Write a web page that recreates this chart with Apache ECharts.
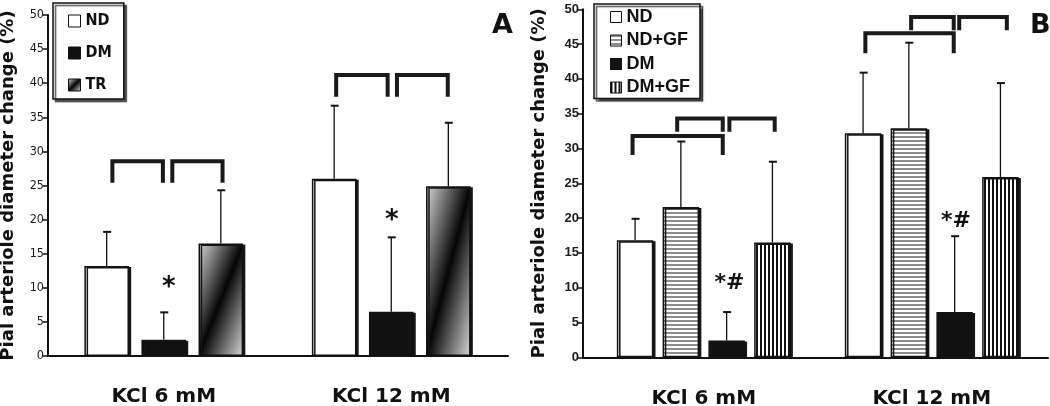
<!DOCTYPE html>
<html><head><meta charset="utf-8">
<script src="https://cdn.jsdelivr.net/npm/echarts@6/dist/echarts.min.js"></script>
<style>html,body{margin:0;padding:0;background:#fff}#c{width:1050px;height:406px}</style>
</head><body><div id="c"></div>
<script>
// ---------- data ----------
const categories = ['KCl 6 mM', 'KCl 12 mM'];
const yMin = 0, yMax = 50, yStep = 5;
const axisTitle = 'Pial arteriole diameter change (%)';

// Panel A
const groupsA = ['ND', 'DM', 'TR'];
const meanA_ND = [13.2, 26.0];
const sdA_ND   = [5.0, 10.7];
const meanA_DM = [2.4, 6.5];
const sdA_DM   = [4.0, 10.9];
const meanA_TR = [16.5, 24.9];
const sdA_TR   = [7.8, 9.3];
// brackets: [category, from bar, to bar, top value, leg end value]
const bracketsA = [[0, 0.10, 0.985, 28.55, 25.4], [0, 1.15, 2.03, 28.55, 25.4],
                   [1, 0.035, 0.937, 41.2, 38.0], [1, 1.10, 1.99, 41.2, 38.0]];
// significance marks: [category, bar position, value]
const marksA = [[0, 1.09, 9.9], [1, 1.01, 19.8]];
const markTextA = ['*', '*'];

// Panel B
const groupsB = ['ND', 'ND+GF', 'DM', 'DM+GF'];
const meanB_ND   = [16.8, 32.2];
const sdB_ND     = [3.1, 8.7];
const meanB_NDGF = [21.6, 32.9];
const sdB_NDGF   = [9.4, 12.3];
const meanB_DM   = [2.4, 6.5];
const sdB_DM     = [4.1, 10.9];
const meanB_DMGF = [16.5, 25.9];
const sdB_DMGF   = [11.6, 13.5];
const bracketsB = [[0, -0.055, 1.915, 31.8, 29.07], [0, 0.92, 1.915, 34.3, 32.4], [0, 2.06, 3.05, 34.3, 32.4],
                   [1, 0.05, 1.98, 46.55, 43.7], [1, 1.05, 1.98, 48.9, 47.0], [1, 2.10, 3.14, 48.9, 47.0]];
const marksB = [[0, 2.06, 10.6], [1, 2.03, 19.5]];
const markTextB = ['*#', '*#'];

// ---------- styles ----------
const INK = '#111';
const BOLD = '"DejaVu Sans", sans-serif';
const NARROW = '"Liberation Sans Narrow", "DejaVu Sans Condensed", sans-serif';
const ARIAL = '"Liberation Sans", Arial, sans-serif';

function stripes(horizontal, fg, bg, line, period) {
  const c = document.createElement('canvas');
  c.width = horizontal ? 8 : period; c.height = horizontal ? period : 8;
  const ctx = c.getContext('2d');
  ctx.fillStyle = bg; ctx.fillRect(0, 0, c.width, c.height);
  ctx.fillStyle = fg;
  if (horizontal) ctx.fillRect(0, 0, c.width, line); else ctx.fillRect(0, 0, line, c.height);
  return c;
}
const hPattern = { image: stripes(true, '#8e8e8e', '#fff', 2, 4), repeat: 'repeat' };
const vPattern = { image: stripes(false, '#111', '#fff', 2, 4), repeat: 'repeat' };

// diagonal gradient (dark band from bottom-left to top-right corner); r = height/width of the bar
function diagGradient(r) {
  const a = 2 * r * r / (1 + r * r), b = 2 / (1 + r * r);
  return { type: 'linear', x: 0, y: 0, x2: a, y2: b,
    colorStops: [{ offset: 0, color: '#d8d8d8' }, { offset: 0.5, color: '#050505' }, { offset: 1, color: '#d8d8d8' }] };
}
const pxPerUnitA = 341 / 50, barPxA = 44.5;

const barStyle = { borderColor: INK, borderWidth: 1.5, shadowColor: '#151515',
  shadowOffsetX: 2.2, shadowOffsetY: 1, shadowBlur: 0.01 };

// layout of bars within a category band
const layoutA = { n: 3, w: 19.6, g: 28 };
const layoutB = { n: 4, w: 16.0, g: 25.5 };

function barCenter(api, cat, slot, L) {
  const band = api.size([1, 0])[0];
  const bw = band * L.w / 100;
  const total = L.n * bw + (L.n - 1) * bw * L.g / 100;
  return api.coord([cat, 0])[0] - total / 2 + bw / 2 + slot * bw * (1 + L.g / 100);
}

function errorSeries(means, sds, L, xi, yi) {
  const data = [];
  means.forEach((m, s) => m.forEach((v, c) => data.push([c, s, v, v + sds[s][c]])));
  return {
    type: 'custom', xAxisIndex: xi, yAxisIndex: yi, z: 5, silent: true,
    encode: { x: 0, y: 3 }, data,
    renderItem: (p, api) => {
      const c = api.value(0), s = api.value(1);
      const x = barCenter(api, c, s, L);
      const y0 = api.coord([c, api.value(2)])[1], y1 = api.coord([c, api.value(3)])[1];
      return { type: 'group', children: [
        { type: 'line', shape: { x1: x, y1: y0, x2: x, y2: y1 }, style: { stroke: INK, lineWidth: 1.3 } },
        { type: 'line', shape: { x1: x - 3.5, y1: y1, x2: x + 4.5, y2: y1 }, style: { stroke: INK, lineWidth: 2 } }
      ] };
    }
  };
}

function bracketSeries(brackets, L, xi, yi) {
  return {
    type: 'custom', xAxisIndex: xi, yAxisIndex: yi, z: 6, silent: true,
    encode: { x: 0, y: 3 }, data: brackets,
    renderItem: (p, api) => {
      const c = api.value(0);
      const xa = barCenter(api, c, api.value(1), L), xb = barCenter(api, c, api.value(2), L);
      const yt = api.coord([c, api.value(3)])[1], yb = api.coord([c, api.value(4)])[1];
      return { type: 'polyline', shape: { points: [[xa, yb], [xa, yt], [xb, yt], [xb, yb]] },
        style: { stroke: '#1a1a1a', lineWidth: 4, fill: null, lineJoin: 'miter' } };
    }
  };
}

function markSeries(marks, texts, L, xi, yi, size) {
  return {
    type: 'custom', xAxisIndex: xi, yAxisIndex: yi, z: 6, silent: true,
    encode: { x: 0, y: 2 }, data: marks,
    renderItem: (p, api) => {
      const c = api.value(0);
      const x = barCenter(api, c, api.value(1), L), y = api.coord([c, api.value(2)])[1];
      return { type: 'text', style: { text: texts[p.dataIndex], x, y, align: 'center', verticalAlign: 'middle',
        font: 'bold ' + size + 'px ' + BOLD, fill: INK } };
    }
  };
}

function barSeries(name, values, color, xi, yi, L, perItem) {
  return {
    type: 'bar', name, xAxisIndex: xi, yAxisIndex: yi, barWidth: L.w + '%', barGap: L.g + '%',
    itemStyle: Object.assign({ color }, barStyle),
    data: perItem ? values.map(v => ({ value: v, itemStyle: { color: perItem(v) } })) : values,
    z: 3
  };
}

// ---------- axes ----------
function visibleAxes(gridIndex, labelFont, labelSize, labelWeight, nameGap) {
  return {
    x: { type: 'value', gridIndex, min: 0, max: 1, axisLine: { show: true, onZero: false, lineStyle: { color: INK, width: 2 } },
         axisTick: { show: false }, axisLabel: { show: false }, splitLine: { show: false } },
    y: { type: 'value', gridIndex, min: yMin, max: yMax, interval: yStep,
         axisLine: { show: true, lineStyle: { color: INK, width: 2 } },
         axisTick: { show: true, length: 5, lineStyle: { color: INK, width: 1.5 } },
         splitLine: { show: false },
         axisLabel: { margin: 4, fontFamily: labelFont, fontSize: labelSize, fontWeight: labelWeight, color: '#1a1a1a' },
         name: axisTitle, nameLocation: 'middle', nameRotate: 90, nameGap,
         nameTextStyle: { fontFamily: BOLD, fontWeight: 'bold', fontSize: 18, color: INK } }
  };
}
function barAxes(gridIndex) {
  return {
    x: { type: 'category', gridIndex, data: categories, axisLine: { show: false }, axisTick: { show: false },
         axisLabel: { margin: 31, fontFamily: BOLD, fontWeight: 'bold', fontSize: 20, color: INK } },
    y: { type: 'value', gridIndex, min: yMin, max: yMax, interval: yStep, show: false, splitLine: { show: false } }
  };
}
const vA = visibleAxes(0, NARROW, 12.5, 'normal', 31), bA = barAxes(1);
const vB = visibleAxes(2, ARIAL, 13, 'bold', 35), bB = barAxes(3);

const legendCommon = {
  orient: 'vertical', selectedMode: false, icon: 'rect', backgroundColor: '#fff',
  borderColor: INK, borderWidth: 1.5, borderRadius: 0,
  shadowColor: 'rgba(40,40,40,0.8)', shadowOffsetX: 2.5, shadowOffsetY: 2.5, shadowBlur: 1,
  itemStyle: { borderColor: INK, borderWidth: 1, shadowBlur: 0, shadowOffsetX: 0, shadowOffsetY: 0, shadowColor: 'transparent' }
};

const gridBase = { containLabel: false, outerBoundsMode: 'none' };
const option = {
  animation: false,
  backgroundColor: '#fff',
  title: [
    { text: 'A', left: 492, top: 12, padding: 0, textStyle: { fontFamily: BOLD, fontWeight: 'bold', fontSize: 27, color: INK } },
    { text: 'B', left: 1030, top: 12, padding: 0, textStyle: { fontFamily: BOLD, fontWeight: 'bold', fontSize: 27, color: INK } }
  ],
  grid: [
    Object.assign({ left: 48, top: 15, width: 460, height: 341 }, gridBase),
    Object.assign({ left: 50, top: 15, width: 455, height: 341 }, gridBase),
    Object.assign({ left: 583, top: 9.3, width: 465, height: 348 }, gridBase),
    Object.assign({ left: 589.75, top: 9.3, width: 456, height: 348 }, gridBase)
  ],
  xAxis: [vA.x, bA.x, vB.x, bB.x],
  yAxis: [vA.y, bA.y, vB.y, bB.y],
  legend: [
    Object.assign({}, legendCommon, { data: groupsA, left: 53, top: 3, padding: [9, 12, 5, 15], itemGap: 14,
      itemWidth: 12, itemHeight: 12,
      textStyle: { fontFamily: NARROW, fontWeight: 'bold', fontSize: 16, lineHeight: 18, color: INK } }),
    Object.assign({}, legendCommon, { data: groupsB, left: 594, top: 4, padding: [4, 10, 2, 16], itemGap: 5.5,
      itemWidth: 11, itemHeight: 11,
      textStyle: { fontFamily: ARIAL, fontWeight: 'bold', fontSize: 18, lineHeight: 16, color: INK } })
  ],
  series: [
    barSeries('ND', meanA_ND, '#fff', 1, 1, layoutA),
    barSeries('DM', meanA_DM, '#111', 1, 1, layoutA),
    barSeries('TR', meanA_TR, diagGradient(1), 1, 1, layoutA, v => diagGradient(v * pxPerUnitA / barPxA)),
    errorSeries([meanA_ND, meanA_DM, meanA_TR], [sdA_ND, sdA_DM, sdA_TR], layoutA, 1, 1),
    bracketSeries(bracketsA, layoutA, 1, 1),
    markSeries(marksA, markTextA, layoutA, 1, 1, 26),
    barSeries('ND', meanB_ND, '#fff', 3, 3, layoutB),
    barSeries('ND+GF', meanB_NDGF, hPattern, 3, 3, layoutB),
    barSeries('DM', meanB_DM, '#111', 3, 3, layoutB),
    barSeries('DM+GF', meanB_DMGF, vPattern, 3, 3, layoutB),
    errorSeries([meanB_ND, meanB_NDGF, meanB_DM, meanB_DMGF], [sdB_ND, sdB_NDGF, sdB_DM, sdB_DMGF], layoutB, 3, 3),
    bracketSeries(bracketsB, layoutB, 3, 3),
    markSeries(marksB, markTextB, layoutB, 3, 3, 22)
  ]
};
const chart = echarts.init(document.getElementById('c'), null, { renderer: 'canvas' });
chart.setOption(option);
</script></body></html>
